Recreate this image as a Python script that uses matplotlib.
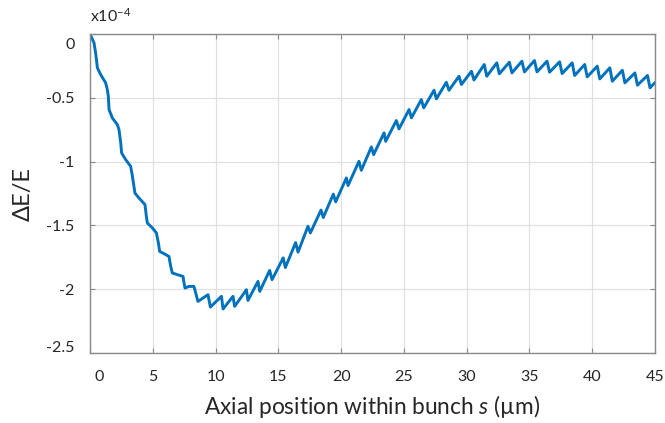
import matplotlib
matplotlib.use('Agg')
import matplotlib.pyplot as plt
import matplotlib.transforms as mtransforms

# energy deviation along the bunch (units of 1e-4), traced point by point
s_um = [0.0, 0.32, 0.45, 0.59, 0.85, 1.25, 1.38, 1.46, 1.52, 1.78, 2.18, 2.31,
        2.45, 2.52, 2.84, 3.24, 3.38, 3.58, 3.90, 4.38, 4.49, 4.57, 4.97, 5.29,
        5.45, 5.55, 5.90, 6.29, 6.43, 6.56, 6.96, 7.41, 7.49, 7.57, 7.88, 8.28,
        8.60, 9.40, 9.59, 10.47, 10.60, 11.39, 11.52, 12.46, 12.58, 13.38, 13.52,
        14.31, 14.50, 15.39, 15.56, 16.38, 16.57, 17.36, 17.55, 18.40, 18.58,
        19.38, 19.57, 20.42, 20.55, 21.42, 21.61, 22.41, 22.59, 23.42, 23.55,
        24.40, 24.61, 25.41, 25.60, 26.39, 26.58, 27.40, 27.59, 28.38, 28.59,
        29.39, 29.58, 30.38, 30.58, 31.40, 31.60, 32.40, 32.60, 33.40, 33.60,
        34.40, 34.60, 35.40, 35.60, 36.40, 36.60, 37.40, 37.60, 38.40, 38.60,
        39.40, 39.60, 40.40, 40.60, 41.40, 41.60, 42.40, 42.60, 43.40, 43.60,
        44.40, 44.60, 45.0]
dE_E = [0.0, -0.069, -0.148, -0.265, -0.318, -0.383, -0.435, -0.488, -0.592, -0.658, -0.710, -0.749,
        -0.854, -0.932, -0.984, -1.037, -1.115, -1.246, -1.285, -1.337, -1.429, -1.481, -1.520, -1.559,
        -1.638, -1.704, -1.722, -1.743, -1.821, -1.873, -1.886, -1.900, -1.951, -1.991, -1.978, -1.978,
        -2.096, -2.043, -2.140, -2.056, -2.155, -2.056, -2.135, -2.004, -2.088, -1.939, -2.017,
        -1.853, -1.925, -1.755, -1.830, -1.635, -1.710, -1.507, -1.559, -1.380, -1.438,
        -1.255, -1.315, -1.128, -1.188, -0.998, -1.068, -0.885, -0.945, -0.775, -0.841,
        -0.678, -0.744, -0.592, -0.657, -0.514, -0.579, -0.441, -0.508, -0.378, -0.441,
        -0.331, -0.396, -0.292, -0.360, -0.239, -0.331, -0.226, -0.312, -0.221, -0.305,
        -0.213, -0.297, -0.208, -0.297, -0.213, -0.299, -0.218, -0.310, -0.226, -0.325,
        -0.239, -0.336, -0.252, -0.352, -0.265, -0.370, -0.284, -0.383, -0.305, -0.401,
        -0.325, -0.422, -0.380]

x_ticks = [0, 5, 10, 15, 20, 25, 30, 35, 40, 45]
y_ticks = [-2.5, -2, -1.5, -1, -0.5, 0]
y_tick_labels = ['-2.5', '-2', '-1.5', '-1', '-0.5', '0']

plt.rcParams['font.family'] = ['Lato', 'DejaVu Sans']
plt.rcParams['mathtext.fontset'] = 'custom'
plt.rcParams['mathtext.rm'] = 'Lato'
plt.rcParams['mathtext.it'] = 'Lato:italic'
plt.rcParams['mathtext.default'] = 'regular'

text_color = '#262626'
axis_color = '#8a8a8a'

fig = plt.figure(figsize=(6.65, 4.23), dpi=100)
ax = fig.add_axes([0.1353, 0.1655, 0.8497, 0.7541])

ax.plot(s_um, dE_E, color='#0072BD', linewidth=2.1,
        solid_joinstyle='round', solid_capstyle='round')

ax.set_xlim(0, 45)
ax.set_ylim(-2.5, 0)
ax.set_xticks(x_ticks)
ax.set_yticks(y_ticks)
ax.set_yticklabels(y_tick_labels)

ax.grid(True, color='#e0e0e0', linewidth=0.9)
ax.set_axisbelow(True)
for sp in ax.spines.values():
    sp.set_color(axis_color)
    sp.set_linewidth(1.0)
ax.tick_params(direction='in', length=3.5, width=0.8, color=axis_color,
               top=True, right=True, labelsize=11.5, labelcolor=text_color)
ax.tick_params(axis='x', pad=12)
ax.tick_params(axis='y', pad=11)

# nudge the corner tick labels inside the frame
def shift(label, dx, dy):
    off = mtransforms.ScaledTranslation(dx / 72, dy / 72, fig.dpi_scale_trans)
    label.set_transform(label.get_transform() + off)

xl = ax.get_xticklabels()
yl = ax.get_yticklabels()
shift(xl[0], 6.5, 0)
shift(yl[-1], 0, -6.5)
shift(yl[0], 0, 5)

ax.set_xlabel(r'Axial position within bunch $\it{s}$ (µm)', fontsize=16.3,
              color=text_color, labelpad=7)
ax.set_ylabel('ΔE/E', fontsize=17, color=text_color, labelpad=9)
ax.text(0.0, 1.03, r'x10$^{-4}$', transform=ax.transAxes, fontsize=11.5,
        color=text_color, ha='left', va='bottom')

fig.savefig('out.png', dpi=100)
